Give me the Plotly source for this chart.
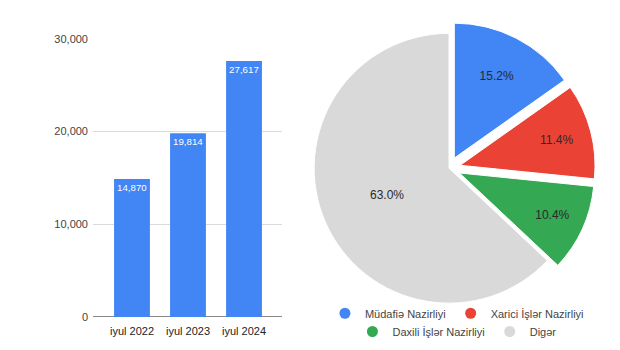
import plotly.graph_objects as go

# Bar chart data
periods = ["iyul 2022", "iyul 2023", "iyul 2024"]
counts = [14870, 19814, 27617]
y_ticks = [0, 10000, 20000, 30000]

# Pie chart data (shares, %)
ministries = ["Müdafiə Nazirliyi", "Xarici İşlər Nazirliyi", "Daxili İşlər Nazirliyi", "Digər"]
shares = [15.2, 11.4, 10.4, 63.0]
slice_colors = ["#4285F4", "#EA4335", "#34A853", "#D9D9D9"]
slice_pull = [0.085, 0.085, 0.085, 0.0]

FONT = "Liberation Sans, Arial, sans-serif"

fig = go.Figure()

fig.add_trace(go.Bar(
    x=periods, y=counts,
    marker=dict(color="#4285F4", line=dict(width=0)),
    texttemplate="%{y:,}", textposition="inside", insidetextanchor="end",
    textangle=0,
    textfont=dict(color="white", size=10.5, family=FONT),
    width=0.64, showlegend=False, hoverinfo="skip",
))

fig.add_trace(go.Pie(
    labels=ministries, values=shares, sort=False, direction="clockwise", rotation=0,
    marker=dict(colors=slice_colors, line=dict(color="white", width=1)),
    pull=slice_pull,
    texttemplate="%{value:.1f}%", textposition="inside", insidetextorientation="horizontal",
    textfont=dict(color="#2a2a2a", size=12, family=FONT),
    domain=dict(x=[0.48, 0.9685], y=[0.087, 0.953]),
    showlegend=False, hoverinfo="skip",
))

# Legend entries with round markers, split over two rows
for i, (name, col) in enumerate(zip(ministries, slice_colors)):
    fig.add_trace(go.Scatter(
        x=[None], y=[None], mode="markers", name=name,
        marker=dict(color=col, size=11, symbol="circle"),
        legend="legend" if i in (0, 1) else "legend2",
    ))

legend_style = dict(
    orientation="h", xanchor="center", yanchor="middle",
    font=dict(size=11, color="#444444", family=FONT),
    bgcolor="rgba(0,0,0,0)", itemwidth=30, tracegroupgap=0,
)

fig.update_layout(
    width=620, height=350,
    margin=dict(l=0, r=0, t=0, b=0),
    paper_bgcolor="white", plot_bgcolor="white",
    font=dict(family=FONT, color="#444444"),
    bargap=0.36,
    xaxis=dict(
        domain=[0.15, 0.455], range=[-0.696, 2.68], type="category",
        showgrid=False, showline=False, zeroline=False, ticks="",
        ticklabelstandoff=6,
        tickfont=dict(size=11, color="#222222"),
    ),
    yaxis=dict(
        domain=[0.08, 0.903], range=[0, 30000], tickvals=y_ticks,
        tickformat=",", showgrid=True, gridcolor="#DADADA", gridwidth=1,
        zeroline=True, zerolinecolor="#888888", zerolinewidth=1,
        showline=False, ticks="", ticklen=0, ticklabelstandoff=4,
        tickfont=dict(size=11, color="#444444"),
    ),
    legend=dict(x=0.737, y=0.091, **legend_style),
    legend2=dict(x=0.737, y=0.037, **legend_style),
)

fig.write_html("out.html")
